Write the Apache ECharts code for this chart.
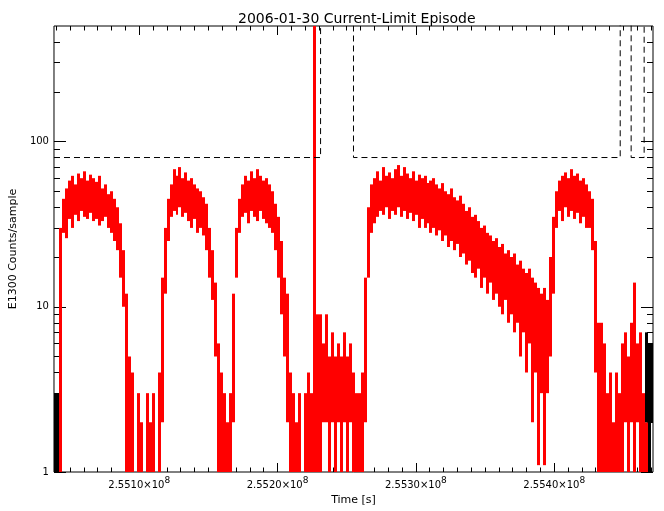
<!DOCTYPE html>
<html><head><meta charset="utf-8">
<script src="https://cdn.jsdelivr.net/npm/echarts@6/dist/echarts.min.js"></script>
<style>html,body{margin:0;padding:0;background:#fff}#c{width:664px;height:511px}</style>
</head><body><div id="c"></div>
<script>
// ---- axis ranges and ticks ----
const timeMin = 255038400, timeMax = 255471400;
const majorTimes = [255100000, 255200000, 255300000, 255400000];
const yMin = 1, yMax = 500;
const yTickValues = [1, 10, 100];
const yMinorValues = [2,3,4,5,6,7,8,9,20,30,40,50,60,70,80,90,200,300,400];

// ---- red count series: highest / lowest count in each sample bin ----
const sampleStart = 255042000, sampleStep = 2160;
const redHi = [
 30,45,52,58,62,55,64,60,66,58,
 63,60,57,62,52,55,48,50,45,40,
 32,22,12,5,4,1,3,2,1,3,
 2,3,1,4,15,30,45,55,68,62,
 70,60,65,58,60,55,52,50,46,42,
 30,22,14,6,4,3,2,3,12,30,
 45,55,62,58,66,60,68,62,58,60,
 55,50,42,35,25,15,12,4,3,2,
 3,1,3,4,3,900,9,9,6,9,
 5,7,5,6,5,7,5,6,4,3,
 3,4,15,40,55,60,66,58,70,62,
 65,60,68,72,62,70,64,60,66,58,
 63,60,62,56,58,60,55,52,56,50,
 48,52,46,44,47,42,38,40,35,36,
 33,30,31,28,27,25,26,23,24,21,
 22,20,21,18,19,17,16,17,15,14,
 13,12,13,11,20,35,50,58,62,65,
 60,68,62,64,58,60,55,50,45,25,
 8,8,6,3,4,2,4,3,6,7,
 5,8,14,6,7,3,2
];
const redLo = [
 1,28,26,34,30,36,33,38,35,34,
 37,33,34,31,33,35,30,28,25,22,
 15,10,1,1,1,1,1,1,1,1,
 1,1,1,1,2,12,25,35,38,36,
 40,35,37,33,30,34,28,30,27,22,
 15,11,5,1,1,1,1,1,2,15,
 28,35,37,32,38,35,33,38,34,32,
 30,28,22,15,9,5,2,1,1,1,
 1,1,1,1,1,1,1,1,2,2,
 1,2,1,2,1,2,1,2,1,1,
 1,1,2,15,28,32,35,38,36,40,
 34,38,36,40,35,38,34,37,33,36,
 30,34,30,32,28,30,27,29,25,27,
 23,25,22,24,20,21,18,19,16,15,
 17,13,15,12,14,11,12,10,9,11,
 8,9,7,8,5,7,4,6,2,4,
 1.1,3,1.1,3,5,12,30,38,33,40,
 35,38,34,37,32,35,30,30,22,4,
 1,1,1,1,1,1,1,1,1,2,
 1,2,1,2,1,1,1
];

// ---- black count series at the two ends ----
const blackLeftStart = 255038400, blackRightStart = 255465700;
const blackLeftHi = [3, 3], blackLeftLo = [1, 1];
const blackRightHi = [7, 6, 6], blackRightLo = [2, 1, 2];

// ---- current-limit flag level (dashed) ----
const limitTimes  = [255038400, 255231100, 255254900, 255447700, 255455600, 255465000, 255471400];
const limitLevels = [80, 1000, 80, 1000, 80, 1000, 1000];

const minorTimes = [];
for (let t = 255040000; t <= timeMax; t += 10000) minorTimes.push(t);

const FONT = 'DejaVu Sans';
const black = '#000';
function xAxisDef(pos, vals, len, labels) {
  return {
    type: 'value', min: timeMin, max: timeMax, position: pos,
    axisLine: { show: false }, splitLine: { show: false },
    axisTick: { show: true, inside: true, length: len, customValues: vals, lineStyle: { color: black, width: 1 } },
    axisLabel: labels ? {
      show: true, customValues: vals, margin: 6,
      formatter: v => '{m|' + (v / 1e8).toFixed(4) + '×10}{e|8}',
      rich: {
        m: { fontFamily: FONT, fontSize: 10, color: black, verticalAlign: 'bottom', lineHeight: 12 },
        e: { fontFamily: FONT, fontSize: 9, color: black, verticalAlign: 'bottom', lineHeight: 12, padding: [0, 0, 5, 0] }
      }
    } : { show: false }
  };
}
function yAxisDef(pos, vals, len, labels) {
  return {
    type: 'log', logBase: 10, min: yMin, max: yMax, position: pos,
    axisLine: { show: false }, splitLine: { show: false }, minorTick: { show: false },
    axisTick: { show: true, inside: true, length: len, customValues: vals, lineStyle: { color: black, width: 1 } },
    axisLabel: labels ? { show: true, customValues: vals, margin: 5, fontFamily: FONT, fontSize: 10, color: black,
      formatter: v => String(v) } : { show: false }
  };
}

// each bin drawn as a filled column from its lowest to its highest count
function binSeries(start, hi, lo, color) {
  return {
    type: 'custom', silent: true,
    encode: { x: 0, y: [1, 2] },
    data: hi.map((h, i) => [start + i * sampleStep, h, lo[i]]),
    renderItem: function (params, api) {
      const t = api.value(0);
      const a = api.coord([t, api.value(1)]);
      const b = api.coord([t + sampleStep, api.value(2)]);
      const x0 = Math.round(a[0]), x1 = Math.round(b[0]);
      const cs = params.coordSys;
      const shape = echarts.graphic.clipRectByRect(
        { x: x0, y: a[1], width: x1 - x0, height: b[1] - a[1] },
        { x: cs.x, y: cs.y, width: cs.width, height: cs.height });
      if (!shape) return;
      return { type: 'rect', shape: shape, style: { fill: color, stroke: null } };
    }
  };
}

const xMain = xAxisDef('bottom', majorTimes, 9, true);
xMain.name = 'Time [s]';
xMain.nameLocation = 'middle';
xMain.nameGap = 21;
xMain.nameTextStyle = { fontFamily: FONT, fontSize: 11, color: black };
const yMain = yAxisDef('left', yTickValues, 12, true);
yMain.name = 'E1300 Counts/sample';
yMain.nameLocation = 'middle';
yMain.nameGap = 28;
yMain.nameRotate = 90;
yMain.nameTextStyle = { fontFamily: FONT, fontSize: 11, color: black };

const chart = echarts.init(document.getElementById('c'), null, { renderer: 'canvas' });
chart.setOption({
  animation: false,
  backgroundColor: '#fff',
  title: { text: '2006-01-30 Current-Limit Episode', left: 233, top: 7,
    textStyle: { fontFamily: FONT, fontSize: 14, fontWeight: 'normal', color: black } },
  grid: { left: 51, right: 11, top: 26, bottom: 39, show: true, borderColor: black, borderWidth: 1, backgroundColor: 'transparent' },
  xAxis: [
    xMain,
    xAxisDef('bottom', minorTimes, 4.5, false),
    xAxisDef('top', majorTimes, 9, false),
    xAxisDef('top', minorTimes, 4.5, false)
  ],
  yAxis: [
    yMain,
    yAxisDef('left', yMinorValues, 6, false),
    yAxisDef('right', yTickValues, 12, false),
    yAxisDef('right', yMinorValues, 6, false)
  ],
  series: [
    binSeries(blackLeftStart, blackLeftHi, blackLeftLo, black),
    binSeries(sampleStart, redHi, redLo, '#ff0000'),
    binSeries(blackRightStart, blackRightHi, blackRightLo, black),
    { type: 'line', data: limitTimes.map((t, i) => [t, limitLevels[i]]), step: 'end', symbol: 'none', silent: true,
      lineStyle: { color: black, width: 1, type: [6, 4] } }
  ]
});
</script>
</body></html>
